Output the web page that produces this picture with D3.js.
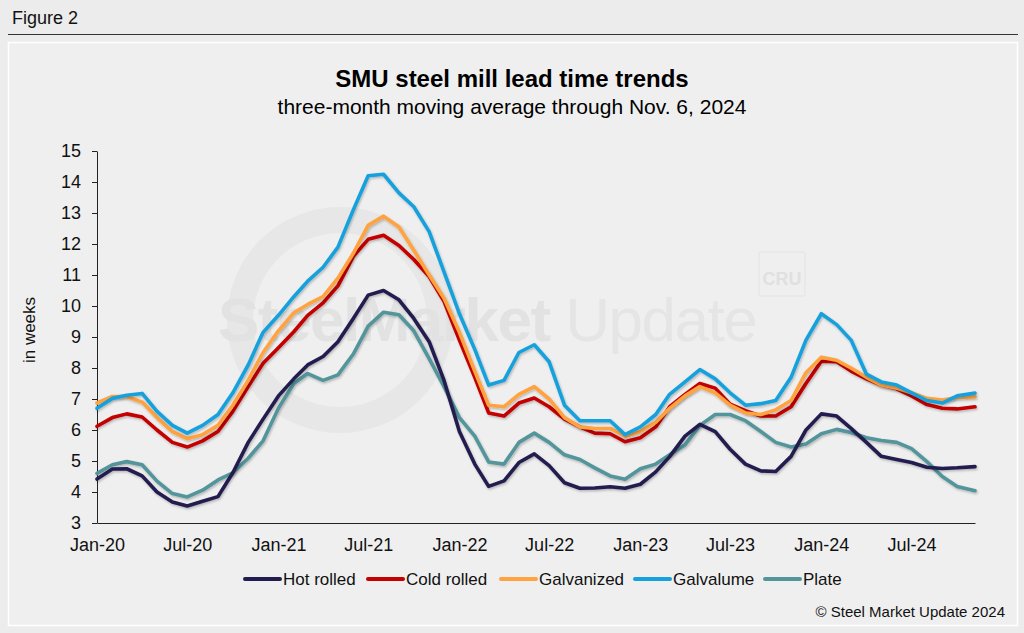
<!DOCTYPE html>
<html><head><meta charset="utf-8">
<script src="https://cdn.jsdelivr.net/npm/d3@7"></script>
<style>
html,body{margin:0;padding:0;background:#ececec;}
svg{display:block;font-family:"Liberation Sans",Arial,Helvetica,sans-serif;}
</style></head><body>
<svg id="chart" width="1024" height="633"></svg>
<script>
// ---------- data ----------
const seriesNames = ["Hot rolled","Cold rolled","Galvanized","Galvalume","Plate"];
const seriesColors = ["#221d4f","#c40000","#ffa23f","#15a1dd","#52959b"];
const tickLabels = ["Jan-20","Jul-20","Jan-21","Jul-21","Jan-22","Jul-22","Jan-23","Jul-23","Jan-24","Jul-24"];
// monthly observations, Jan 2020 .. Nov 6 2024 (weeks)
const hotRolled = [4.42,4.74,4.75,4.52,4.0,3.68,3.55,3.7,3.85,4.62,5.6,6.35,
  7.1,7.65,8.1,8.37,8.85,9.6,10.35,10.5,10.2,9.6,8.85,7.6,
  5.95,4.9,4.18,4.36,4.95,5.23,4.85,4.3,4.12,4.13,4.17,4.12,
  4.25,4.65,5.14,5.8,6.18,5.95,5.38,4.9,4.68,4.66,5.15,6.0,
  6.52,6.45,6.05,5.6,5.15,5.05,4.95,4.8,4.76,4.78,4.82];
const coldRolled = [6.12,6.4,6.52,6.42,6.0,5.6,5.45,5.65,5.95,6.6,7.4,8.15,
  8.65,9.17,9.7,10.1,10.65,11.6,12.15,12.28,11.95,11.5,10.95,10.15,
  8.9,7.7,6.55,6.45,6.87,7.03,6.75,6.35,6.1,5.9,5.88,5.62,
  5.75,6.1,6.75,7.15,7.5,7.35,6.83,6.62,6.45,6.45,6.75,7.5,
  8.22,8.2,7.9,7.65,7.45,7.33,7.1,6.82,6.7,6.68,6.75];
const galvanized = [6.87,7.08,7.08,6.9,6.4,5.95,5.72,5.85,6.15,6.8,7.6,8.5,
  9.2,9.78,10.05,10.3,10.9,11.7,12.6,12.9,12.55,11.8,11.0,10.25,
  9.15,7.9,6.8,6.75,7.15,7.4,7.0,6.4,6.1,6.05,6.05,5.8,
  5.95,6.25,6.7,7.1,7.4,7.2,6.8,6.55,6.5,6.65,6.95,7.85,
  8.35,8.25,8.0,7.7,7.45,7.35,7.2,7.02,6.97,7.05,7.07];
const galvalume = [6.7,7.02,7.12,7.18,6.6,6.15,5.9,6.15,6.5,7.2,8.1,9.15,
  9.7,10.3,10.8,11.25,11.9,13.1,14.2,14.25,13.65,13.2,12.4,11.1,
  9.75,8.6,7.45,7.6,8.5,8.75,8.2,6.8,6.3,6.3,6.3,5.85,
  6.1,6.5,7.15,7.55,7.95,7.65,7.2,6.8,6.85,6.95,7.7,8.9,
  9.75,9.4,8.9,7.8,7.55,7.45,7.2,6.95,6.87,7.1,7.19];
const plate = [4.6,4.88,4.98,4.88,4.35,3.95,3.84,4.06,4.39,4.62,5.09,5.65,
  6.7,7.5,7.82,7.6,7.78,8.45,9.35,9.8,9.72,9.2,8.3,7.4,
  6.4,5.8,4.97,4.9,5.6,5.9,5.6,5.2,5.05,4.78,4.52,4.41,
  4.75,4.9,5.2,5.52,6.15,6.5,6.5,6.3,5.95,5.6,5.45,5.55,
  5.88,6.02,5.92,5.75,5.66,5.6,5.4,4.98,4.5,4.18,4.04];
const seriesValues = [hotRolled, coldRolled, galvanized, galvalume, plate];

const dates = d3.timeMonth.range(new Date(2020,0,1), new Date(2024,10,2));
dates[dates.length-1] = new Date(2024,10,6);

// ---------- drawing ----------
const svg = d3.select("#chart");
const W = 1024, H = 633;

svg.append("rect").attr("x",0).attr("y",0).attr("width",W).attr("height",H).attr("fill","#ececec");
svg.append("text").attr("x",12).attr("y",24).attr("font-size",18).attr("fill","#111").text("Figure 2");
svg.append("line").attr("x1",8).attr("x2",1018).attr("y1",34.5).attr("y2",34.5).attr("stroke","#333").attr("stroke-width",1.2);
svg.append("rect").attr("x",8.5).attr("y",42.5).attr("width",1009).attr("height",583)
  .attr("fill","#efefef").attr("stroke","#ffffff").attr("stroke-width",1.5);

// watermark
const wm = svg.append("g").attr("pointer-events","none");
wm.append("circle").attr("cx",340).attr("cy",320).attr("r",100).attr("fill","none")
  .attr("stroke","#e5e5e5").attr("stroke-width",26).attr("opacity",0.8);
const wt = wm.append("text").attr("x",218).attr("y",341).attr("font-size",62).attr("fill","#e2e2e2").attr("letter-spacing",-1.5);
wt.append("tspan").attr("font-weight","bold").text("SteelMarket");
wt.append("tspan").attr("font-weight","normal").attr("fill","#e5e5e5").text(" Update");
wm.append("rect").attr("x",759).attr("y",252).attr("width",46).attr("height",44).attr("rx",2)
  .attr("fill","none").attr("stroke","#e3e3e3").attr("stroke-width",1);
wm.append("text").attr("x",782).attr("y",285).attr("text-anchor","middle").attr("font-size",18)
  .attr("font-weight","bold").attr("fill","#e0e0e0").text("CRU");

// titles
svg.append("text").attr("x",512).attr("y",87).attr("text-anchor","middle").attr("font-size",24)
  .attr("font-weight","bold").attr("fill","#000").text("SMU steel mill lead time trends");
svg.append("text").attr("x",512).attr("y",114).attr("text-anchor","middle").attr("font-size",21)
  .attr("fill","#000").text("three-month moving average through Nov. 6, 2024");

const x = d3.scaleTime().domain([new Date(2020,0,1), new Date(2024,10,6)]).range([97,975]);
const y = d3.scaleLinear().domain([3,15]).range([523,151]);

// y axis
const yAxis = svg.append("g").attr("transform","translate(97,0)")
  .call(d3.axisLeft(y).tickValues(d3.range(3,16)).tickSize(5).tickSizeOuter(0).tickPadding(11));
yAxis.selectAll("text").attr("font-size",18).attr("fill","#111").attr("font-family","Liberation Sans, Arial, sans-serif");
yAxis.selectAll("line,path").attr("stroke","#222");

// x axis
const parseTick = d3.timeParse("%b-%y");
const xAxis = svg.append("g").attr("transform","translate(0,523)")
  .call(d3.axisBottom(x).tickValues(tickLabels.map(parseTick)).tickFormat(d3.timeFormat("%b-%y"))
    .tickSize(0).tickSizeOuter(0).tickPadding(15));
xAxis.selectAll("text").attr("font-size",18).attr("fill","#111").attr("font-family","Liberation Sans, Arial, sans-serif");
xAxis.select("path").attr("stroke","#222");

svg.append("text").attr("transform","translate(35,330) rotate(-90)").attr("text-anchor","middle")
  .attr("font-size",17).attr("fill","#111").text("in weeks");

// shadow
const defs = svg.append("defs");
const f = defs.append("filter").attr("id","sh").attr("x","-5%").attr("y","-5%").attr("width","110%").attr("height","120%");
f.append("feDropShadow").attr("dx",1).attr("dy",1.5).attr("stdDeviation",1).attr("flood-color","#000").attr("flood-opacity",0.25);

const line = d3.line().x((d,i)=>x(dates[i])).y(d=>y(d)).curve(d3.curveLinear);
const order = [4,0,1,2,3];
svg.append("g").selectAll("path").data(order).join("path")
  .attr("d",i=>line(seriesValues[i]))
  .attr("fill","none").attr("stroke",i=>seriesColors[i]).attr("stroke-width",3.6)
  .attr("stroke-linejoin","round").attr("stroke-linecap","round").attr("filter","url(#sh)");

// legend
const legendX = [245,368,501,635,765];
const lg = svg.append("g");
seriesNames.forEach((n,i)=>{
  lg.append("line").attr("x1",legendX[i]).attr("x2",legendX[i]+35).attr("y1",579).attr("y2",579)
    .attr("stroke",seriesColors[i]).attr("stroke-width",4).attr("stroke-linecap","round");
  lg.append("text").attr("x",legendX[i]+38).attr("y",585).attr("font-size",17).attr("fill","#111").text(n);
});

svg.append("text").attr("x",1005).attr("y",617).attr("text-anchor","end").attr("font-size",15)
  .attr("fill","#111").text("© Steel Market Update 2024");
</script>
</body></html>
